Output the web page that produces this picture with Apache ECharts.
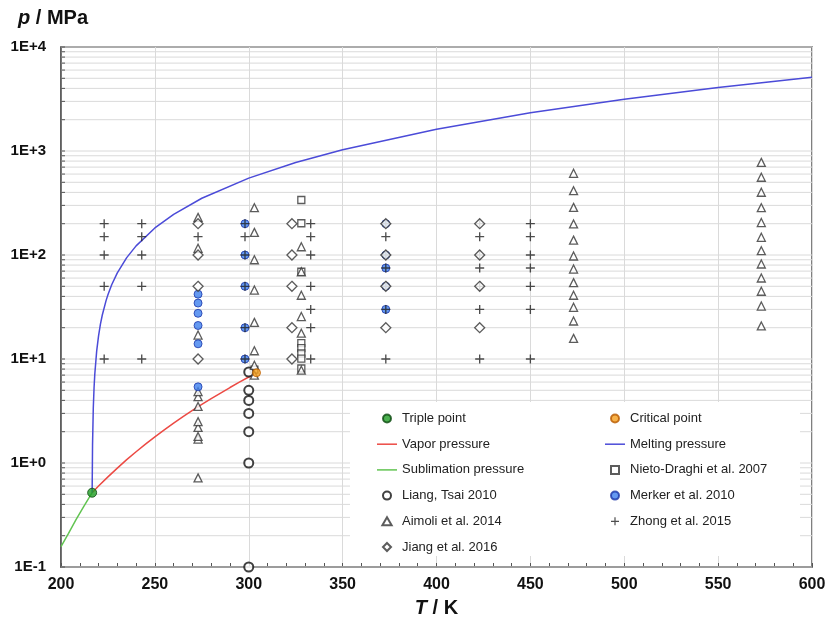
<!DOCTYPE html>
<html>
<head>
<meta charset="utf-8">
<script src="https://cdn.jsdelivr.net/npm/echarts@6/dist/echarts.min.js"></script>
<style>
  html, body { margin: 0; padding: 0; background: #fff; }
  #chart { width: 828px; height: 629px; }
</style>
</head>
<body>
<div id="chart"></div>
<script>
// Axis ranges
const tMin = 200, tMax = 600, tStep = 50;
const pMin = 0.1, pMax = 10000;

// Characteristic points of CO2  [T / K, p / MPa]
const triplePoint = [[216.59, 0.518]];
const criticalPoint = [[304.13, 7.377]];

// Phase boundary curves
const vaporT = [216.59, 220, 225, 230, 235, 240, 245, 250, 255, 260, 265, 270, 275, 280, 285, 290, 295, 300, 304.13];
const vaporP = [0.518, 0.600, 0.735, 0.893, 1.077, 1.283, 1.516, 1.785, 2.085, 2.419, 2.790, 3.203, 3.654, 4.161, 4.708, 5.318, 5.987, 6.713, 7.377];

const meltingT = [216.59, 216.8, 217.2, 217.6, 218, 219, 220, 221, 222, 224, 225, 227, 230, 235, 240, 250, 260, 275, 300, 325, 350, 400, 450, 500, 550, 600];
const meltingP = [0.518, 1.50, 3.38, 5.26, 7.16, 11.9, 16.7, 21.6, 26.5, 36.4, 41.5, 51.7, 67.3, 94.3, 122.4, 182.1, 246.3, 351.1, 548.5, 774.2, 1028, 1622, 2329, 3149, 4083, 5130];

const sublimationT = [200, 204, 208, 212, 216.59];
const sublimationP = [0.157, 0.211, 0.285, 0.379, 0.518];

// Literature state points [T / K, p / MPa]
const nietoDraghi2007 = [
  [303, 7.9],
  [328, 338], [328, 202], [328, 69], [328, 14.2], [328, 12.7], [328, 11.3], [328, 10.1], [328, 8.1]
];
const liangTsai2010 = [
  [300, 0.1], [300, 1], [300, 2], [300, 3], [300, 4], [300, 5], [300, 7.5]
];
const aimoli2014 = [
  [273, 0.72], [273, 1.7], [273, 1.8], [273, 2.2], [273, 2.5], [273, 3.5], [273, 4.35], [273, 4.85], [273, 17], [273, 116], [273, 230],
  [303, 7.0], [303, 8.7], [303, 12], [303, 22.5], [303, 46], [303, 90], [303, 165], [303, 285],
  [328, 7.8], [328, 17.7], [328, 25.6], [328, 41], [328, 69], [328, 120],
  [473, 15.8], [473, 23.2], [473, 31.4], [473, 41], [473, 54.2], [473, 73.3], [473, 97.8], [473, 139], [473, 199], [473, 287], [473, 415], [473, 610],
  [573, 20.8], [573, 32.3], [573, 44.8], [573, 60.1], [573, 81.9], [573, 110], [573, 148], [573, 205], [573, 285], [573, 401], [573, 559], [573, 778]
];
const merker2010 = [
  [273, 5.4], [273, 14], [273, 21], [273, 27.5], [273, 34.5], [273, 42],
  [298, 10], [298, 20], [298, 50], [298, 100], [298, 200],
  [373, 30], [373, 50], [373, 75], [373, 100], [373, 200]
];
const zhong2015 = [
  [223, 10], [223, 50], [223, 100], [223, 150], [223, 200],
  [243, 10], [243, 50], [243, 100], [243, 150], [243, 200],
  [273, 150],
  [298, 10], [298, 20], [298, 50], [298, 100], [298, 150], [298, 200],
  [333, 10], [333, 20], [333, 30], [333, 50], [333, 100], [333, 150], [333, 200],
  [373, 10], [373, 30], [373, 50], [373, 75], [373, 100], [373, 150], [373, 200],
  [423, 10], [423, 30], [423, 50], [423, 75], [423, 100], [423, 150], [423, 200],
  [450, 10], [450, 30], [450, 50], [450, 75], [450, 100], [450, 150], [450, 200]
];
const jiang2016 = [
  [273, 10], [273, 50], [273, 100], [273, 200],
  [323, 10], [323, 20], [323, 50], [323, 100], [323, 200],
  [373, 20], [373, 50], [373, 100], [373, 200],
  [423, 20], [423, 50], [423, 100], [423, 200]
];

// Legend layout: two columns
const legendLeft = ['Triple point', 'Vapor pressure', 'Sublimation pressure', 'Liang, Tsai 2010', 'Aimoli et al. 2014', 'Jiang et al. 2016'];
const legendRight = ['Critical point', 'Melting pressure', 'Nieto-Draghi et al. 2007', 'Merker et al. 2010', 'Zhong et al. 2015'];

const FONT = '"Liberation Sans", Arial, Helvetica, sans-serif';
const zip = (xs, ys) => xs.map((x, i) => [x, ys[i]]);

// Horizontal grid values: every 1..9 × 10^k inside the pressure range
const gridValues = [];
for (let e = Math.round(Math.log10(pMin)); e < Math.round(Math.log10(pMax)); e++) {
  for (let m = 1; m <= 9; m++) gridValues.push(m * Math.pow(10, e));
}
gridValues.push(pMax);

const plusPath = 'path://M4.25,0h1.5v4.25h4.25v1.5h-4.25v4.25h-1.5v-4.25h-4.25v-1.5h4.25z';

// Legend icons (paths keep their aspect ratio inside the icon box)
const legendIcons = {
  'Vapor pressure': 'path://M0,0h20v1.5h-20z',
  'Melting pressure': 'path://M0,0h20v1.5h-20z',
  'Sublimation pressure': 'path://M0,0h20v1.5h-20z',
  'Aimoli et al. 2014': 'path://M5,0L10,8.66L0,8.66Z',
  'Jiang et al. 2016': 'path://M5,0L10,5L5,10L0,5Z',
  'Nieto-Draghi et al. 2007': 'path://M0,0H10V10H0Z'
};

const hollow = (color, w) => ({ color: '#fff', borderColor: color, borderWidth: w });

const legendItems = names => names.map(n => legendIcons[n] ? { name: n, icon: legendIcons[n] } : { name: n });

const legendBase = {
  top: 412, orient: 'vertical', padding: 0,
  itemWidth: 20, itemHeight: 8, itemGap: 12.7, selectedMode: false, z: 10,
  textStyle: { fontFamily: FONT, fontSize: 13, color: '#222' }
};

const chart = echarts.init(document.getElementById('chart'), null, { renderer: 'canvas' });

chart.setOption({
  backgroundColor: '#fff',
  animation: false,
  textStyle: { fontFamily: FONT },
  title: {
    text: '{i|p} / MPa',
    left: 13, top: 3,
    textStyle: {
      fontFamily: FONT, fontSize: 20, fontWeight: 'bold', color: '#111',
      rich: { i: { fontFamily: FONT, fontSize: 20, fontWeight: 'bold', fontStyle: 'italic', color: '#111' } }
    }
  },
  grid: {
    left: 61, right: 16, top: 47, bottom: 62,
    show: true, borderColor: '#555', borderWidth: 1.5, backgroundColor: 'transparent',
    outerBoundsMode: 'none', containLabel: false
  },
  xAxis: {
    type: 'value', min: tMin, max: tMax, interval: tStep,
    name: '{i|T} / K', nameLocation: 'middle', nameGap: 31,
    nameTextStyle: {
      fontFamily: FONT, fontSize: 20, fontWeight: 'bold', color: '#111',
      rich: { i: { fontFamily: FONT, fontSize: 20, fontWeight: 'bold', fontStyle: 'italic', color: '#111' } }
    },
    axisLine: { show: true, lineStyle: { color: '#555', width: 1.5 } },
    axisTick: { show: true, inside: true, length: 4, lineStyle: { color: '#555' } },
    minorTick: { show: true, splitNumber: 5, length: 4, lineStyle: { color: '#555' } },
    splitLine: { show: true, lineStyle: { color: '#dadada', width: 1 } },
    axisLabel: { fontFamily: FONT, fontSize: 16, fontWeight: 'bold', color: '#111', margin: 10, showMinLabel: true, showMaxLabel: true, hideOverlap: false }
  },
  yAxis: {
    type: 'log', logBase: 10, min: pMin, max: pMax, splitNumber: 5,
    axisLine: { show: true, lineStyle: { color: '#555', width: 1.5 } },
    axisTick: { show: false },
    splitLine: { show: false },
    axisLabel: {
      fontFamily: FONT, fontSize: 15, fontWeight: 'bold', color: '#111', margin: 15,
      formatter: v => {
        const e = Math.round(Math.log10(v));
        return '1E' + (e < 0 ? '-' : '+') + Math.abs(e);
      }
    }
  },
  legend: [
    Object.assign({}, legendBase, { data: legendItems(legendLeft), left: 377 }),
    Object.assign({}, legendBase, { data: legendItems(legendRight), left: 605 })
  ],
  graphic: [
    { type: 'rect', z: 6, shape: { x: 350, y: 402, width: 450, height: 154 }, style: { fill: '#fff', stroke: null } }
  ],
  series: [
    {
      // horizontal log grid lines and left-edge ticks
      type: 'custom', silent: true, z: 1,
      data: gridValues.map(v => [tMin, v]),
      renderItem: (params, api) => {
        const v = api.value(1);
        const a = api.coord([tMin, v]);
        const b = api.coord([tMax, v]);
        return {
          type: 'group',
          children: [
            { type: 'line', shape: { x1: a[0], y1: a[1], x2: b[0], y2: b[1] }, style: { stroke: '#dadada', lineWidth: 1 } },
            { type: 'line', shape: { x1: a[0], y1: a[1], x2: a[0] + 4, y2: a[1] }, style: { stroke: '#555', lineWidth: 1 } }
          ]
        };
      }
    },
    {
      name: 'Sublimation pressure', type: 'line', data: zip(sublimationT, sublimationP),
      symbol: 'none', smooth: false, z: 3,
      lineStyle: { color: '#62c452', width: 1.5 }, itemStyle: { color: '#62c452' }
    },
    {
      name: 'Vapor pressure', type: 'line', data: zip(vaporT, vaporP),
      symbol: 'none', smooth: false, z: 3,
      lineStyle: { color: '#ec4a44', width: 1.5 }, itemStyle: { color: '#ec4a44' }
    },
    {
      name: 'Melting pressure', type: 'line', data: zip(meltingT, meltingP),
      symbol: 'none', smooth: false, z: 3,
      lineStyle: { color: '#4b4bd8', width: 1.5 }, itemStyle: { color: '#4b4bd8' }
    },
    {
      name: 'Nieto-Draghi et al. 2007', type: 'scatter', data: nietoDraghi2007,
      symbol: 'rect', symbolSize: 7, z: 4, itemStyle: hollow('#333', 1.3)
    },
    {
      name: 'Liang, Tsai 2010', type: 'scatter', data: liangTsai2010,
      symbol: 'circle', symbolSize: 9, z: 4, itemStyle: hollow('#111', 2)
    },
    {
      name: 'Aimoli et al. 2014', type: 'scatter', data: aimoli2014,
      symbol: 'triangle', symbolSize: 8, z: 4, itemStyle: hollow('#333', 1.3)
    },
    {
      name: 'Merker et al. 2010', type: 'scatter', data: merker2010,
      symbol: 'circle', symbolSize: 8, z: 4,
      itemStyle: { color: '#3d7fee', borderColor: '#1a34a8', borderWidth: 1 }
    },
    {
      name: 'Zhong et al. 2015', type: 'scatter', data: zhong2015,
      symbol: plusPath, symbolSize: 9, z: 4,
      itemStyle: { color: '#222' }
    },
    {
      name: 'Jiang et al. 2016', type: 'scatter', data: jiang2016,
      symbol: 'diamond', symbolSize: 10, z: 4, itemStyle: hollow('#333', 1.3)
    },
    {
      name: 'Triple point', type: 'scatter', data: triplePoint,
      symbol: 'circle', symbolSize: 9, z: 5,
      itemStyle: { color: '#1f9e24', borderColor: '#0d4a10', borderWidth: 1 }
    },
    {
      name: 'Critical point', type: 'scatter', data: criticalPoint,
      symbol: 'circle', symbolSize: 8, z: 5,
      itemStyle: { color: '#f59f1c', borderColor: '#b85a00', borderWidth: 1 }
    }
  ]
});
</script>
</body>
</html>
